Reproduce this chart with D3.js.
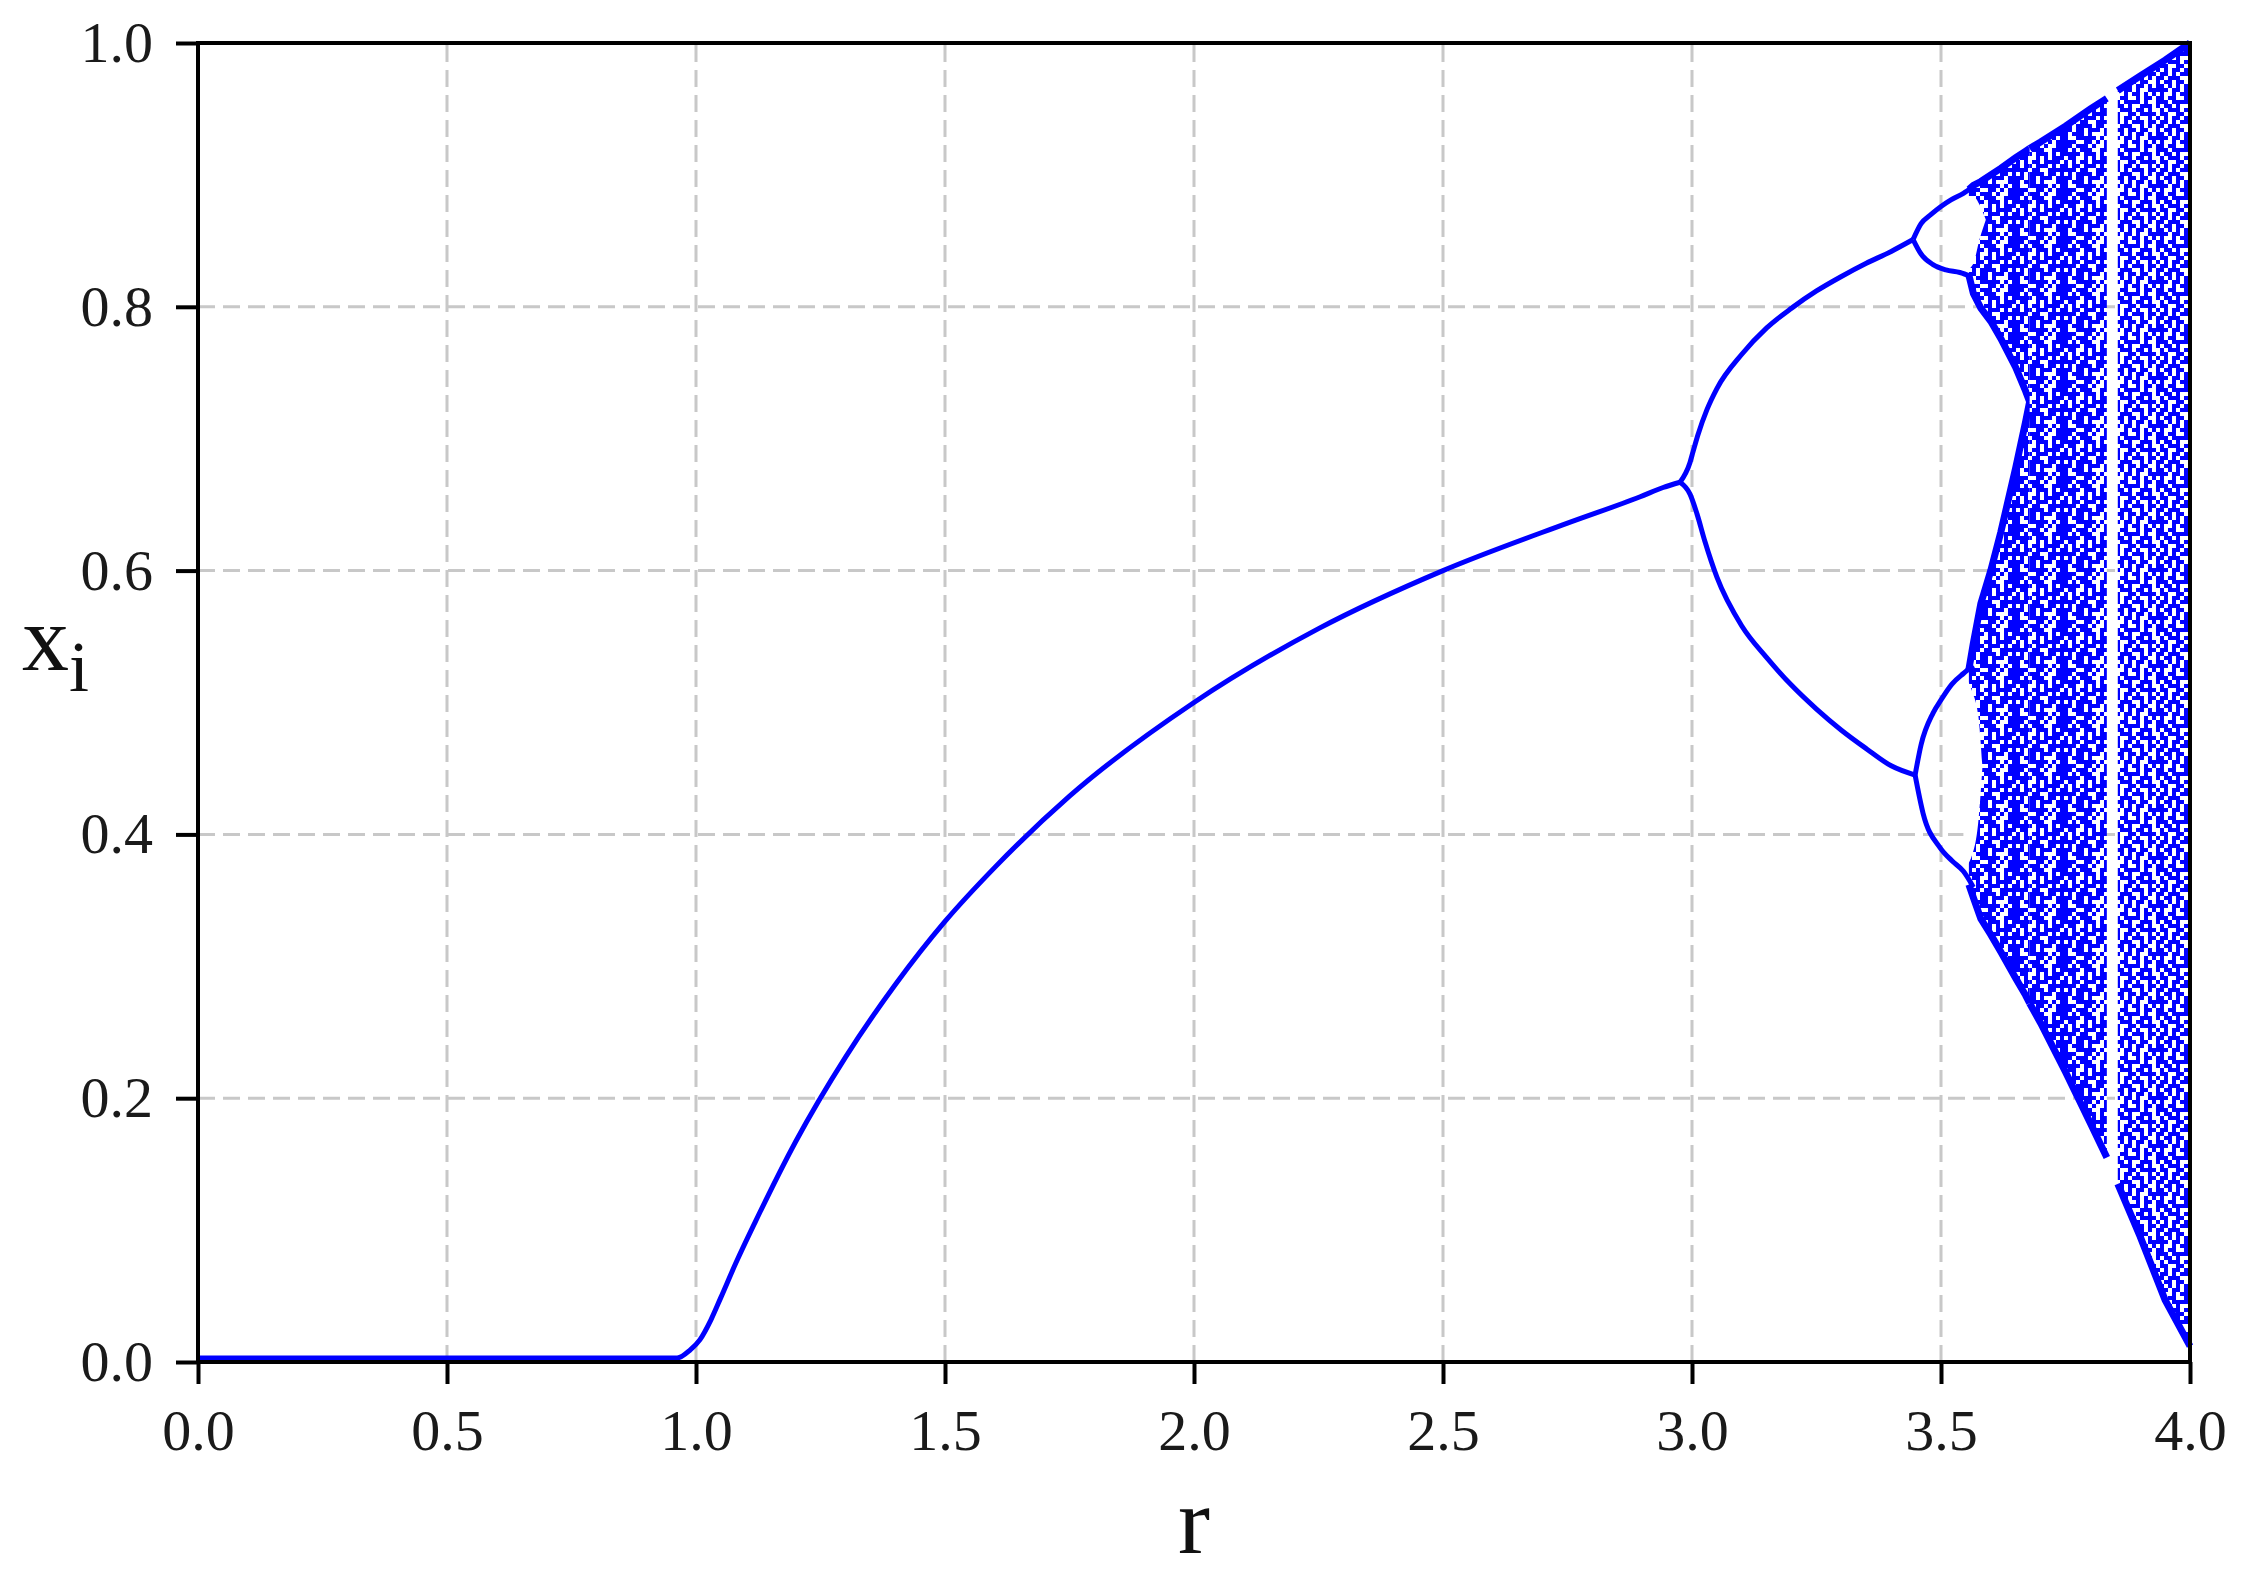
<!DOCTYPE html>
<html>
<head>
<meta charset="utf-8">
<script src="https://cdn.jsdelivr.net/npm/d3@7"></script>
<style>
  body { margin: 0; background: #fff; }
  svg { display: block; }
  text { font-family: "Liberation Serif", Tinos, "Times New Roman", Times, serif; }
</style>
</head>
<body>
<div id="chart"></div>
<script>
// ticks
const rTicks = [0, 0.5, 1.0, 1.5, 2.0, 2.5, 3.0, 3.5, 4.0];
const xTicks = [0, 0.2, 0.4, 0.6, 0.8, 1.0];

// stable fixed point
const fixedR = [0, 0.5, 0.962, 0.988, 1.008, 1.03, 1.05, 1.08, 1.12, 1.2, 1.3, 1.4, 1.5, 1.6, 1.75, 2.0, 2.25, 2.5, 2.75, 2.896, 2.942, 2.976];
const fixedX = [0.003, 0.003, 0.003, 0.009, 0.017, 0.032, 0.049, 0.075, 0.107, 0.167, 0.231, 0.286, 0.334, 0.375, 0.429, 0.500, 0.556, 0.600, 0.636, 0.656, 0.663, 0.667];

// period 2
const p2UpR = [2.976, 2.996, 3.002, 3.012, 3.03, 3.05, 3.1, 3.15, 3.2, 3.25, 3.3, 3.35, 3.4, 3.444];
const p2UpX = [0.667, 0.682, 0.690, 0.703, 0.722, 0.738, 0.764, 0.784, 0.799, 0.812, 0.823, 0.833, 0.842, 0.851];
const p2LoR = [2.976, 2.996, 3.01, 3.026, 3.05, 3.1, 3.15, 3.2, 3.25, 3.3, 3.35, 3.4, 3.448];
const p2LoX = [0.667, 0.658, 0.643, 0.622, 0.595, 0.558, 0.534, 0.513, 0.495, 0.479, 0.465, 0.452, 0.445];

// period 4
const p4aR = [3.444, 3.46, 3.48, 3.5, 3.52, 3.545, 3.564];
const p4aX = [0.851, 0.863, 0.870, 0.876, 0.881, 0.886, 0.891];
const p4bR = [3.444, 3.46, 3.484, 3.51, 3.538, 3.56];
const p4bX = [0.851, 0.840, 0.832, 0.828, 0.826, 0.823];
const p4cR = [3.448, 3.46, 3.484, 3.5, 3.522, 3.545, 3.565];
const p4cX = [0.445, 0.468, 0.492, 0.502, 0.514, 0.522, 0.528];
const p4dR = [3.448, 3.464, 3.498, 3.522, 3.545, 3.565];
const p4dX = [0.445, 0.416, 0.390, 0.380, 0.372, 0.360];

// chaotic bands: two bands before merging, then one band (gap = period-3 window)
const bandUpR  = [3.556, 3.565, 3.58, 3.6, 3.62, 3.65, 3.67, 3.678];
const bandUpHi = [0.889, 0.892, 0.895, 0.900, 0.905, 0.913, 0.918, 0.920];
const bandUpLo = [0.824, 0.810, 0.799, 0.789, 0.776, 0.754, 0.736, 0.728];
const bandLoR  = [3.556, 3.565, 3.58, 3.6, 3.62, 3.65, 3.67, 3.678];
const bandLoHi = [0.525, 0.545, 0.575, 0.600, 0.629, 0.678, 0.713, 0.728];
const bandLoLo = [0.362, 0.352, 0.336, 0.324, 0.311, 0.291, 0.278, 0.272];
const bandLeftR  = [3.678, 3.7, 3.75, 3.8, 3.833];
const bandLeftHi = [0.920, 0.925, 0.937, 0.950, 0.958];
const bandLeftLo = [0.272, 0.257, 0.220, 0.181, 0.155];
const bandRightR  = [3.855, 3.9, 3.95, 4.0];
const bandRightHi = [0.964, 0.975, 0.987, 1.0];
const bandRightLo = [0.135, 0.095, 0.047, 0.012];

// empty loops inside the period-4 cascade
const bubUpR  = [3.545, 3.564, 3.578, 3.59];
const bubUpHi = [0.884, 0.884, 0.877, 0.866];
const bubUpLo = [0.826, 0.832, 0.852, 0.866];
const bubLoR  = [3.545, 3.563, 3.575, 3.583];
const bubLoHi = [0.521, 0.508, 0.490, 0.452];
const bubLoLo = [0.374, 0.385, 0.410, 0.450];

const W = 2244, H = 1578;
const blue = "#0000ff";

const svg = d3.select("#chart").append("svg")
    .attr("width", W)
    .attr("height", H);

const x = d3.scaleLinear().domain([0, 4]).range([198, 2190]);
const y = d3.scaleLinear().domain([0, 1]).range([1362, 43]);

// speckle textures for the chaotic region ('.' = white 4px cell)
const denseTile = [
    "##.###.#..##",
    "#.#.###..###",
    "####.###.#.#",
    ".##..#.#.###",
    "#.#.##.####.",
    "#.##.###.#.#",
    "###.##..####",
    ".#.####.##.#",
    "##.##.###.##",
    "#.###.#...##",
    "#..#####.#.#",
    "###..##.#.##"
];
const sparseTile = [
    "#.##..#.##.#",
    "##.####.#..#",
    ".##.#..###.#",
    "#.###.##.#..",
    "##..##.####.",
    ".#.##.#..#.#",
    "##.#.###.##.",
    "#.###..#.#.#",
    ".##.##.##..#",
    "#.#.#.##.#.#",
    "##.##.#..###",
    "#..#.##.#.#."
];
const defs = svg.append("defs");
function speckle(id, tile) {
    const c = 4, size = tile.length * c;
    const p = defs.append("pattern")
        .attr("id", id)
        .attr("patternUnits", "userSpaceOnUse")
        .attr("width", size)
        .attr("height", size);
    p.append("rect").attr("width", size).attr("height", size).attr("fill", blue);
    tile.forEach((row, j) => {
        row.split("").forEach((ch, i) => {
            if (ch === ".") {
                p.append("rect")
                    .attr("x", i * c).attr("y", j * c)
                    .attr("width", c).attr("height", c)
                    .attr("fill", "#fff");
            }
        });
    });
}
speckle("dense", denseTile);
speckle("sparse", sparseTile);

// grid
const grid = svg.append("g")
    .attr("stroke", "#c8c8c8")
    .attr("stroke-width", 3)
    .attr("stroke-dasharray", "17,8");
grid.selectAll("line.v")
    .data(rTicks.slice(1, -1))
    .enter().append("line")
    .attr("x1", d => x(d)).attr("x2", d => x(d))
    .attr("y1", y(0)).attr("y2", y(1));
grid.selectAll("line.h")
    .data(xTicks.slice(1, -1))
    .enter().append("line")
    .attr("y1", d => y(d)).attr("y2", d => y(d))
    .attr("x1", x(0)).attr("x2", x(4));

// bands
function band(rs, hi, lo) {
    return rs.map((r, i) => ({ r: r, hi: hi[i], lo: lo[i] }));
}
const area = d3.area()
    .x(d => x(d.r))
    .y0(d => y(d.lo))
    .y1(d => y(d.hi));
const edgeHi = d3.line().x(d => x(d.r)).y(d => y(d.hi));
const edgeLo = d3.line().x(d => x(d.r)).y(d => y(d.lo));

const bands = [
    { d: band(bandUpR, bandUpHi, bandUpLo), fill: "url(#dense)" },
    { d: band(bandLoR, bandLoHi, bandLoLo), fill: "url(#dense)" },
    { d: band(bandLeftR, bandLeftHi, bandLeftLo), fill: "url(#dense)" },
    { d: band(bandRightR, bandRightHi, bandRightLo), fill: "url(#sparse)" }
];
const gb = svg.append("g");
bands.forEach(b => {
    gb.append("path").attr("d", area(b.d)).attr("fill", b.fill);
    gb.append("path").attr("d", edgeHi(b.d)).attr("fill", "none").attr("stroke", blue).attr("stroke-width", 7);
    gb.append("path").attr("d", edgeLo(b.d)).attr("fill", "none").attr("stroke", blue).attr("stroke-width", 7);
});

// white loops
const loopArea = d3.area()
    .x(d => x(d.r))
    .y0(d => y(d.lo))
    .y1(d => y(d.hi))
    .curve(d3.curveMonotoneX);
[band(bubUpR, bubUpHi, bubUpLo), band(bubLoR, bubLoHi, bubLoLo)].forEach(b => {
    gb.append("path").attr("d", loopArea(b)).attr("fill", "#fff");
});

// branches
const line = d3.line()
    .x(d => x(d[0]))
    .y(d => y(d[1]))
    .curve(d3.curveMonotoneX);
const branches = [
    d3.zip(fixedR, fixedX),
    d3.zip(p2UpR, p2UpX), d3.zip(p2LoR, p2LoX),
    d3.zip(p4aR, p4aX), d3.zip(p4bR, p4bX), d3.zip(p4cR, p4cX), d3.zip(p4dR, p4dX)
];
svg.append("g").selectAll("path")
    .data(branches)
    .enter().append("path")
    .attr("d", line)
    .attr("fill", "none")
    .attr("stroke", blue)
    .attr("stroke-width", 5);

// axes
const xAxis = d3.axisBottom(x).tickValues(rTicks).tickSize(22).tickPadding(25).tickFormat(d3.format(".1f"));
const yAxis = d3.axisLeft(y).tickValues(xTicks).tickSize(22).tickPadding(23).tickFormat(d3.format(".1f"));

const gx = svg.append("g").attr("transform", "translate(0," + y(0) + ")").call(xAxis);
const gy = svg.append("g").attr("transform", "translate(" + x(0) + ",0)").call(yAxis);
[gx, gy].forEach(g => {
    g.attr("font-family", null).attr("font-size", null);
    g.select(".domain").remove();
    g.selectAll(".tick line").attr("stroke", "#000").attr("stroke-width", 4);
    g.selectAll(".tick text")
        .attr("fill", "#1a1a1a")
        .style("font-size", "58px");
});

svg.append("rect")
    .attr("x", x(0)).attr("y", y(1))
    .attr("width", x(4) - x(0))
    .attr("height", y(0) - y(1))
    .attr("fill", "none")
    .attr("stroke", "#000")
    .attr("stroke-width", 4);

// titles
svg.append("text")
    .attr("x", (x(0) + x(4)) / 2)
    .attr("y", 1553)
    .attr("text-anchor", "middle")
    .style("font-size", "96px")
    .attr("fill", "#111")
    .text("r");

const yl = svg.append("text")
    .attr("x", 22)
    .attr("y", 670)
    .style("font-size", "94px")
    .attr("fill", "#111");
yl.append("tspan").text("x");
yl.append("tspan").attr("dy", 21).style("font-size", "72px").text("i");
</script>
</body>
</html>
